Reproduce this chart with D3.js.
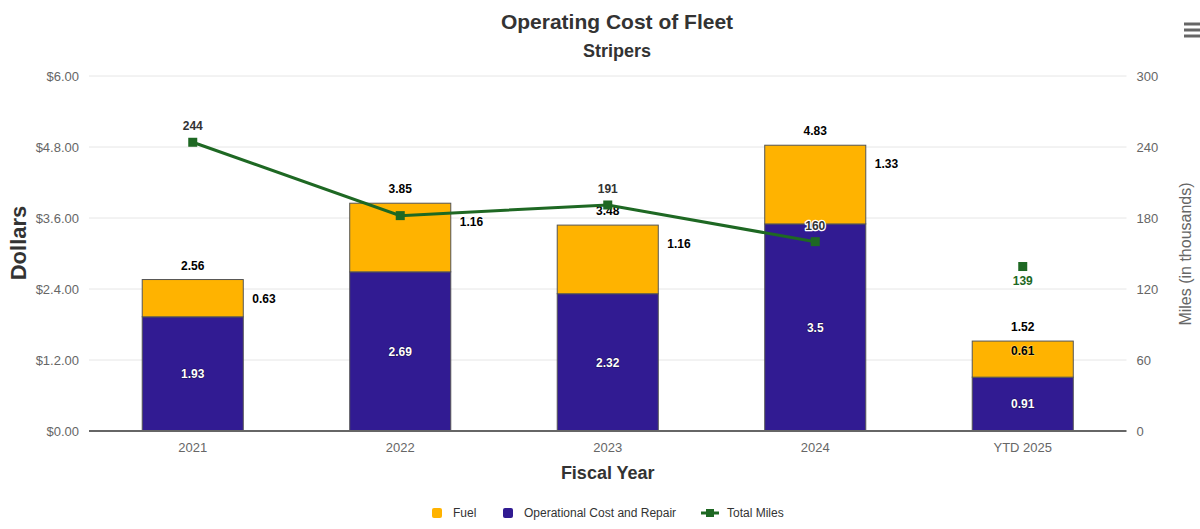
<!DOCTYPE html>
<html>
<head>
<meta charset="utf-8">
<script src="https://cdn.jsdelivr.net/npm/d3@7"></script>
<style>
  html, body { margin: 0; padding: 0; background: #fff; }
  svg { display: block; font-family: "Liberation Sans", Arial, Helvetica, sans-serif; }
</style>
</head>
<body>
<svg id="chart" width="1200" height="529"></svg>
<script>
// ---- data ----
const categories = ["2021", "2022", "2023", "2024", "YTD 2025"];
const fuel = [0.63, 1.16, 1.16, 1.33, 0.61];
const operational = [1.93, 2.69, 2.32, 3.5, 0.91];
const totals = [2.56, 3.85, 3.48, 4.83, 1.52];
const totalMiles = [244, 182, 191, 160, 139];
const dollarTicks = [0, 1.2, 2.4, 3.6, 4.8, 6.0];
const dollarTickLabels = ["$0.00", "$1.2.00", "$2.4.00", "$3.6.00", "$4.8.00", "$6.00"];
const milesTicks = [0, 60, 120, 180, 240, 300];
const seriesNames = ["Fuel", "Operational Cost and Repair", "Total Miles"];

// ---- styles ----
const C_FUEL = "#ffb300", C_OP = "#311b92", C_MILES = "#1e6823";
const W = 1200, H = 529;
const m = { left: 89, right: 1126.5, top: 76, bottom: 431 };

const svg = d3.select("#chart");

const x = d3.scaleBand().domain(categories).range([m.left, m.right])
  .paddingInner(0.513).paddingOuter(0.2565);
const y = d3.scaleLinear().domain([0, 6]).range([m.bottom, m.top]);
const y2 = d3.scaleLinear().domain([0, 300]).range([m.bottom, m.top]);

// gridlines
svg.append("g").selectAll("line").data(dollarTicks.slice(1)).join("line")
  .attr("x1", m.left).attr("x2", m.right)
  .attr("y1", d => y(d)).attr("y2", d => y(d))
  .attr("stroke", "#e6e6e6").attr("stroke-width", 1);

// left axis
const yAxis = d3.axisLeft(y).tickValues(dollarTicks).tickSize(0).tickPadding(10)
  .tickFormat((d, i) => dollarTickLabels[i]);
const gy = svg.append("g").attr("transform", `translate(${m.left},0)`).call(yAxis);
gy.select(".domain").remove();
gy.selectAll("text").attr("fill", "#666").attr("font-size", 13);

// right axis
const y2Axis = d3.axisRight(y2).tickValues(milesTicks).tickSize(0).tickPadding(10);
const gy2 = svg.append("g").attr("transform", `translate(${m.right},0)`).call(y2Axis);
gy2.select(".domain").remove();
gy2.selectAll("text").attr("fill", "#666").attr("font-size", 13);

// x axis
const xAxis = d3.axisBottom(x).tickSize(0).tickPadding(12);
const gx = svg.append("g").attr("transform", `translate(0,${m.bottom})`).call(xAxis);
gx.select(".domain").remove();
gx.selectAll("text").attr("fill", "#666").attr("font-size", 13);

// stacked bars
const rows = categories.map((c, i) => ({ cat: c, op: operational[i], fuel: fuel[i], total: totals[i], miles: totalMiles[i], i }));
const stack = d3.stack().keys(["op", "fuel"])(rows);
const colors = { op: C_OP, fuel: C_FUEL };
const gb = svg.append("g");
stack.forEach(layer => {
  gb.append("g").selectAll("rect").data(layer).join("rect")
    .attr("x", d => x(d.data.cat))
    .attr("width", x.bandwidth())
    .attr("y", d => y(d[1]))
    .attr("height", d => y(d[0]) - y(d[1]))
    .attr("fill", colors[layer.key])
    .attr("stroke", "#555").attr("stroke-width", 1);
});

// x axis line
svg.append("line").attr("x1", m.left).attr("x2", m.right)
  .attr("y1", m.bottom).attr("y2", m.bottom)
  .attr("stroke", "#666").attr("stroke-width", 2);

// labels helper
function label(g, txt, xx, yy, opts) {
  return g.append("text").attr("x", xx).attr("y", yy)
    .attr("text-anchor", opts.anchor || "middle")
    .attr("dy", "0.35em")
    .attr("font-size", 12).attr("font-weight", "bold")
    .attr("fill", opts.fill || "#000")
    .attr("stroke", opts.outline || "#fff").attr("stroke-width", opts.ow || 2)
    .attr("stroke-linejoin", "round").attr("paint-order", "stroke")
    .text(txt);
}
const gl = svg.append("g");

// operational labels (inside, centered)
rows.forEach(d => {
  label(gl, String(d.op), x(d.cat) + x.bandwidth() / 2, (y(0) + y(d.op)) / 2,
    { fill: "#fff", outline: "#1a0e55", ow: 1.2 });
});
// fuel labels
rows.forEach(d => {
  const top = y(d.op + d.fuel);
  if (d.cat.startsWith("YTD")) {
    label(gl, d.fuel.toFixed(2), x(d.cat) + x.bandwidth() / 2, top + 10, { fill: "#000", outline: "#ffd870", ow: 1.2 });
  } else {
    label(gl, d.fuel.toFixed(2), x(d.cat) + x.bandwidth() + 9, top + 19, { anchor: "start", fill: "#000" });
  }
});
// totals labels
const totalBoxes = [];
rows.forEach(d => {
  const t = label(gl, d.total.toFixed(2), x(d.cat) + x.bandwidth() / 2, y(d.total) - 14, { fill: "#000" });
  totalBoxes.push(t.node().getBBox());
});

// miles line (full fiscal years) + YTD marker
const cx = d => x(d.cat) + x.bandwidth() / 2;
const fullYears = rows.filter(d => !d.cat.startsWith("YTD"));
svg.append("path").datum(fullYears)
  .attr("d", d3.line().x(cx).y(d => y2(d.miles)))
  .attr("fill", "none").attr("stroke", C_MILES).attr("stroke-width", 3);
svg.append("g").selectAll("rect").data(rows).join("rect")
  .attr("x", d => cx(d) - 4.5).attr("y", d => y2(d.miles) - 4.5)
  .attr("width", 9).attr("height", 9).attr("fill", C_MILES);

const gm = svg.append("g");
rows.forEach(d => {
  const ytd = d.cat.startsWith("YTD");
  const t = label(gm, d.miles, cx(d), ytd ? y2(d.miles) + 14 : y2(d.miles) - 16,
    ytd ? { fill: C_MILES, outline: "#fff", ow: 2 } : { fill: "#333", outline: "#fff", ow: 2.5 });
  const b = t.node().getBBox();
  const overlap = totalBoxes.some(o => !(b.x + b.width < o.x || o.x + o.width < b.x || b.y + b.height < o.y || o.y + o.height < b.y));
  if (overlap) t.remove();
});

// titles
svg.append("text").attr("x", 617).attr("y", 29).attr("text-anchor", "middle")
  .attr("font-size", 21).attr("font-weight", "bold").attr("fill", "#333").text("Operating Cost of Fleet");
svg.append("text").attr("x", 617).attr("y", 57).attr("text-anchor", "middle")
  .attr("font-size", 18).attr("font-weight", "bold").attr("fill", "#333").text("Stripers");
svg.append("text").attr("x", (m.left + m.right) / 2).attr("y", 479).attr("text-anchor", "middle")
  .attr("font-size", 18).attr("font-weight", "bold").attr("fill", "#333").text("Fiscal Year");
svg.append("text").attr("transform", "translate(26,243) rotate(-90)").attr("text-anchor", "middle")
  .attr("font-size", 22).attr("font-weight", "bold").attr("fill", "#333").text("Dollars");
svg.append("text").attr("transform", "translate(1191,254) rotate(-90)").attr("text-anchor", "middle")
  .attr("font-size", 16).attr("fill", "#666").text("Miles (in thousands)");

// menu icon
[24, 30, 36].forEach(yy => svg.append("line").attr("x1", 1184).attr("x2", 1200)
  .attr("y1", yy).attr("y2", yy).attr("stroke", "#666").attr("stroke-width", 3));

// legend
const lg = svg.append("g").attr("font-size", 12).attr("fill", "#333");
const legendItems = [
  { name: seriesNames[0], color: C_FUEL, type: "sq", sx: 437, tx: 453 },
  { name: seriesNames[1], color: C_OP, type: "sq", sx: 508, tx: 524 },
  { name: seriesNames[2], color: C_MILES, type: "line", sx: 710, tx: 727 }
];
legendItems.forEach(it => {
  if (it.type === "sq") {
    lg.append("rect").attr("x", it.sx - 5).attr("y", 508).attr("width", 10).attr("height", 10)
      .attr("rx", 2).attr("fill", it.color);
  } else {
    lg.append("line").attr("x1", it.sx - 9).attr("x2", it.sx + 9).attr("y1", 513).attr("y2", 513)
      .attr("stroke", it.color).attr("stroke-width", 3);
    lg.append("rect").attr("x", it.sx - 4).attr("y", 509).attr("width", 8).attr("height", 8).attr("fill", it.color);
  }
  lg.append("text").attr("x", it.tx).attr("y", 517).attr("fill", "#333").text(it.name);
});
</script>
</body>
</html>
